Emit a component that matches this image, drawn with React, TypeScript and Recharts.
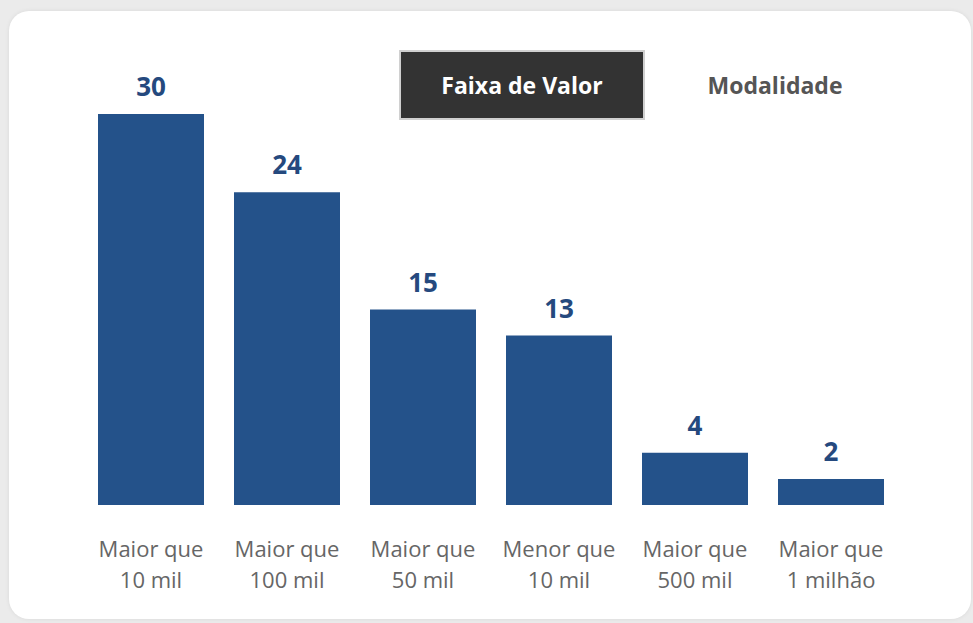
import { BarChart, Bar, XAxis, YAxis, LabelList } from "recharts";

const categories = [
  "Maior que 10 mil",
  "Maior que 100 mil",
  "Maior que 50 mil",
  "Menor que 10 mil",
  "Maior que 500 mil",
  "Maior que 1 milhão",
];
const counts = [30, 24, 15, 13, 4, 2];
const toggleOptions = ["Faixa de Valor", "Modalidade"];

const data = categories.map((name, i) => ({ name, value: counts[i] }));

const FONT = "'Open Sans', 'Noto Sans', sans-serif";

function TwoLineTick({ x, y, payload }: any) {
  const words = String(payload.value).split(" ");
  const first = words.slice(0, 2).join(" ");
  const second = words.slice(2).join(" ");
  return (
    <g transform={`translate(${x},${y})`}>
      <text textAnchor="middle" fill="#666666" fontSize={22} fontFamily={FONT}>
        <tspan x={0} dy={44}>{first}</tspan>
        <tspan x={0} dy={31}>{second}</tspan>
      </text>
    </g>
  );
}

export default function App() {
  return (
    <div
      style={{
        position: "absolute",
        left: 0,
        top: 0,
        width: 973,
        height: 623,
        background: "#ebebeb",
        overflow: "hidden",
      }}
    >
      <div
        style={{
          position: "absolute",
          left: 9,
          top: 11,
          width: 962,
          height: 608,
          background: "#fff",
          borderRadius: 20,
          boxShadow: "0 0 4px rgba(0,0,0,0.08)",
        }}
      />
      <div style={{ position: "absolute", left: 0, top: 0 }}>
        <BarChart
          width={973}
          height={623}
          data={data}
          margin={{ top: 114, right: 74, bottom: 0, left: 83 }}
          barCategoryGap={15}
        >
          <YAxis hide domain={[0, 30]} />
          <XAxis
            dataKey="name"
            axisLine={false}
            tickLine={false}
            interval={0}
            height={118}
            tick={<TwoLineTick />}
          />
          <Bar dataKey="value" fill="#24528a" isAnimationActive={false}>
            <LabelList
              dataKey="value"
              position="top"
              offset={18}
              fill="#25497e"
              fontSize={26}
              fontWeight={700}
              fontFamily={FONT}
            />
          </Bar>
        </BarChart>
      </div>
      <div
        style={{
          position: "absolute",
          left: 399,
          top: 50,
          width: 246,
          height: 70,
          boxSizing: "border-box",
          background: "#333333",
          border: "2px solid #d0d0d0",
          color: "#fff",
          fontFamily: FONT,
          fontWeight: 700,
          fontSize: 23,
          display: "flex",
          alignItems: "center",
          justifyContent: "center",
        }}
      >
        {toggleOptions[0]}
      </div>
      <div
        style={{
          position: "absolute",
          left: 652,
          top: 50,
          width: 246,
          height: 70,
          color: "#555555",
          fontFamily: FONT,
          fontWeight: 700,
          fontSize: 23,
          display: "flex",
          alignItems: "center",
          justifyContent: "center",
        }}
      >
        {toggleOptions[1]}
      </div>
    </div>
  );
}
